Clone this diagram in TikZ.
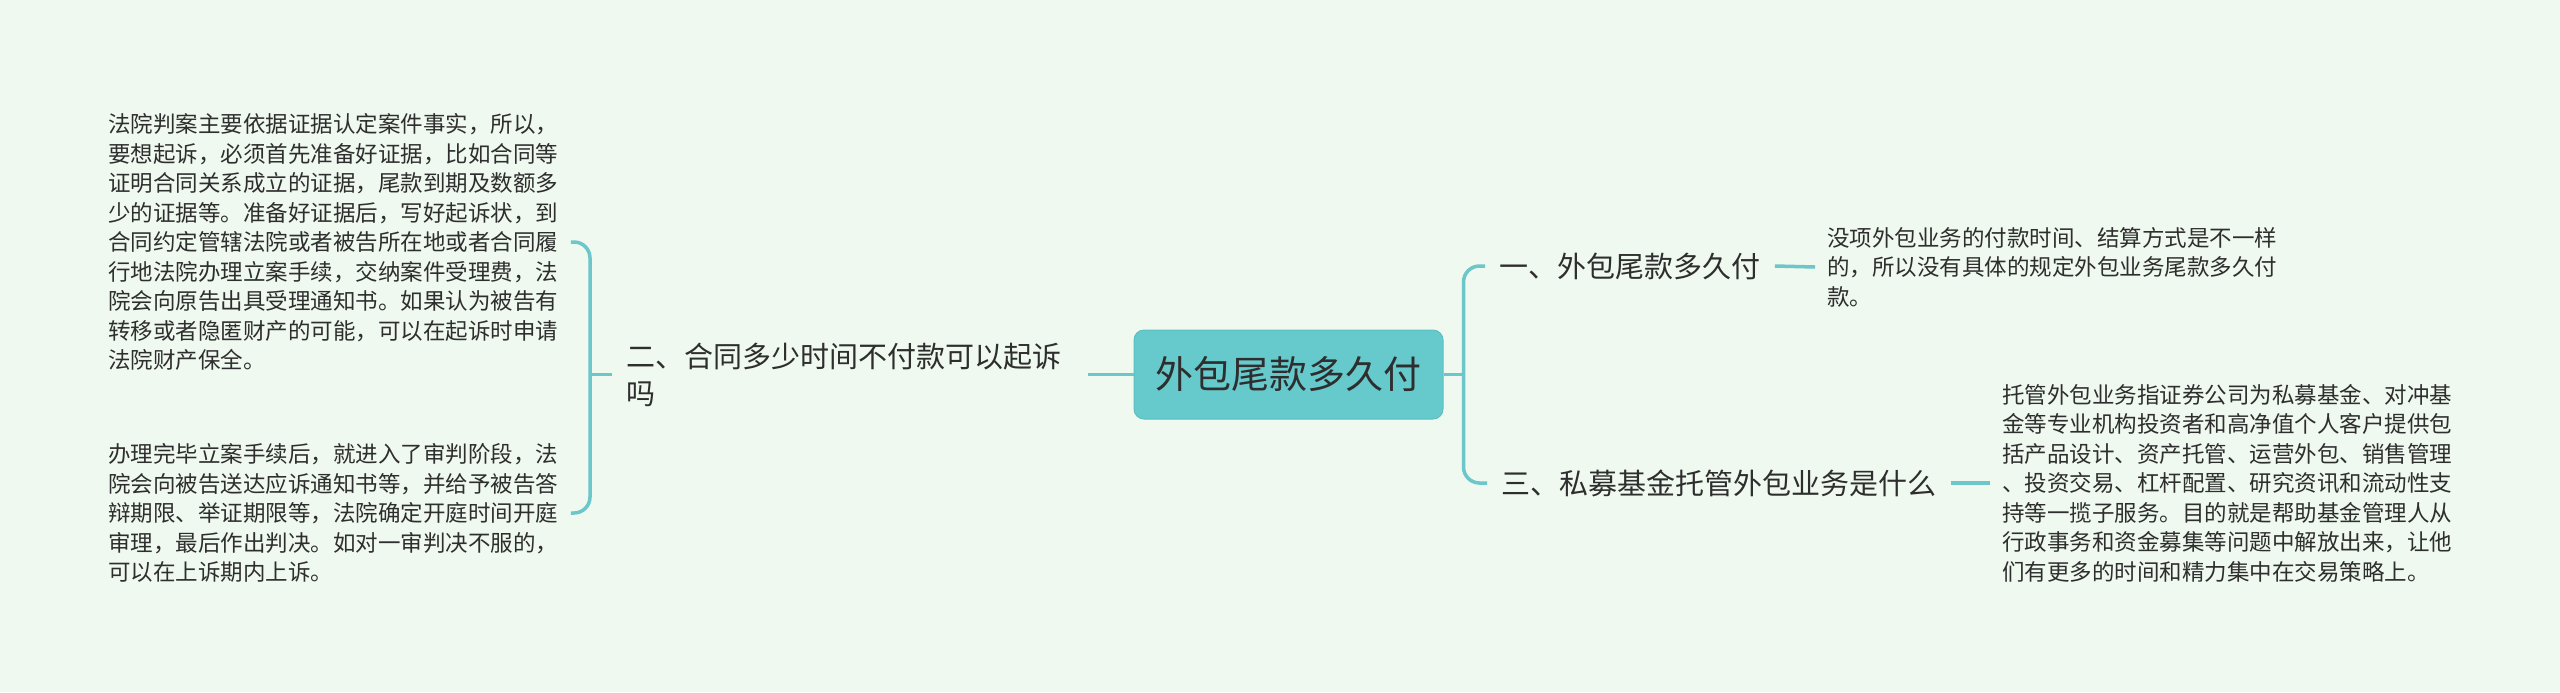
\documentclass[tikz,border=0pt]{standalone}
\usepackage{fontspec}
\newfontfamily\cjk{Noto Sans CJK SC}
\definecolor{bgc}{HTML}{EFF9EF}
\definecolor{linec}{HTML}{6CC6CA}
\definecolor{rootfill}{HTML}{66CACC}
\definecolor{rootdraw}{HTML}{5CC0C3}
\definecolor{txt}{HTML}{2E2E2E}
\tikzset{
  conn/.style={draw=linec, line width=1.75pt},
  rootbox/.style={fill=rootfill, draw=rootdraw, line width=0.5pt, rounded corners=5pt,
    minimum width=154.5pt, minimum height=44.5pt, inner sep=0pt,
    font=\cjk\fontsize{19}{22}\selectfont, text=txt},
  branch/.style={inner xsep=7pt, inner ysep=0pt, align=left, anchor=west,
    font=\cjk\fontsize{14.5}{18.5}\selectfont, text=txt},
  leaf/.style={inner xsep=6pt, inner ysep=0pt, align=left, anchor=west,
    font=\cjk\fontsize{11.25}{14.75}\selectfont, text=txt},
}
\begin{document}
\begin{tikzpicture}[x=0.5pt,y=-0.5pt]
\fill[bgc] (0,0) rectangle (2560,692);
\useasboundingbox (0,0) rectangle (2560,692);

\node[rootbox] (root) at (1288.5,374.5) {外包尾款多久付};

\node[branch] (b2) at (612,374.5) {二、合同多少时间不付款可以起诉\\%
吗};
\node[branch] (b1) at (1485,266) {一、外包尾款多久付};
\node[branch] (b3) at (1487,483) {三、私募基金托管外包业务是什么};

\node[leaf] (l1) at (96,242) {法院判案主要依据证据认定案件事实，所以，\\%
要想起诉，必须首先准备好证据，比如合同等\\%
证明合同关系成立的证据，尾款到期及数额多\\%
少的证据等。准备好证据后，写好起诉状，到\\%
合同约定管辖法院或者被告所在地或者合同履\\%
行地法院办理立案手续，交纳案件受理费，法\\%
院会向原告出具受理通知书。如果认为被告有\\%
转移或者隐匿财产的可能，可以在起诉时申请\\%
法院财产保全。};

\node[leaf] (l2) at (96,513) {办理完毕立案手续后，就进入了审判阶段，法\\%
院会向被告送达应诉通知书等，并给予被告答\\%
辩期限、举证期限等，法院确定开庭时间开庭\\%
审理，最后作出判决。如对一审判决不服的，\\%
可以在上诉期内上诉。};

\node[leaf] (r1) at (1815,267) {没项外包业务的付款时间、结算方式是不一样\\%
的，所以没有具体的规定外包业务尾款多久付\\%
款。};

\node[leaf] (r3) at (1990,483) {托管外包业务指证券公司为私募基金、对冲基\\%
金等专业机构投资者和高净值个人客户提供包\\%
括产品设计、资产托管、运营外包、销售管理\\%
、投资交易、杠杆配置、研究资讯和流动性支\\%
持等一揽子服务。目的就是帮助基金管理人从\\%
行政事务和资金募集等问题中解放出来，让他\\%
们有更多的时间和精力集中在交易策略上。};

% right side
\coordinate (rj) at ([xshift=10pt]root.east);
\draw[conn] (root.east) -- (rj);
\draw[conn, rounded corners=8pt] (b1.west) -| (rj) |- (b3.west);
\draw[conn] (b1.east) -- (r1.west);
\draw[conn] (b3.east) -- (r3.west);

% left side
\coordinate (b2e) at ([xshift=6pt]b2.east);
\draw[conn] (root.west) -- (b2e);
\coordinate (lj) at ([xshift=-11pt]b2.west);
\draw[conn] (lj) -- (b2.west);
\draw[conn, rounded corners=8pt] (l1.east) -| (lj) |- (l2.east);
\end{tikzpicture}
\end{document}
